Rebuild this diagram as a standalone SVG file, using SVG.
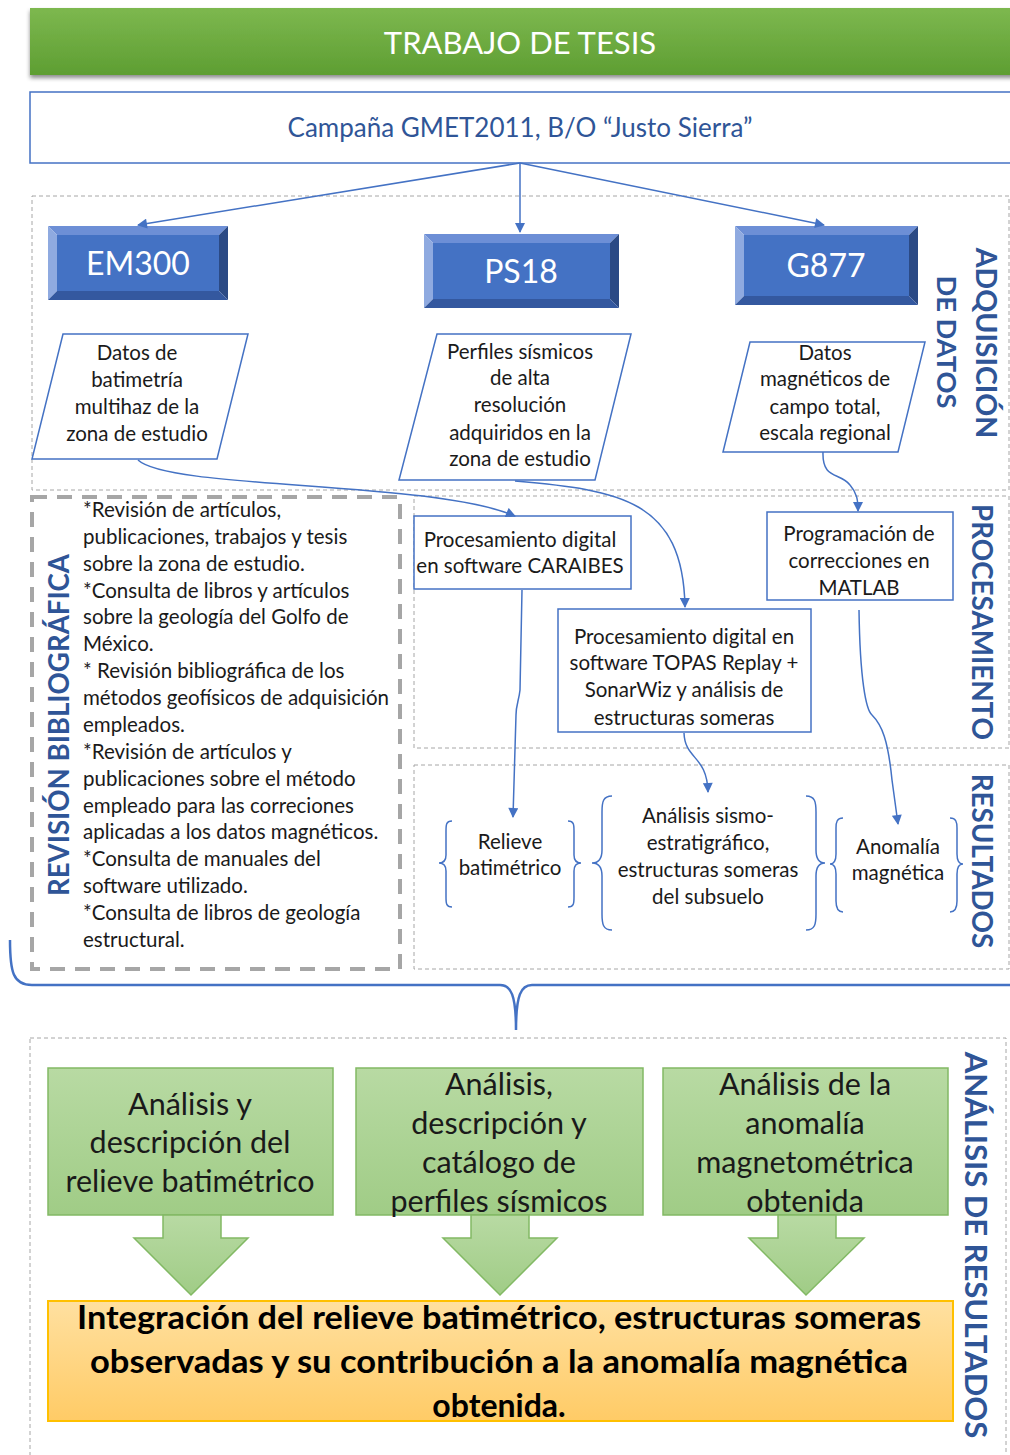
<svg xmlns="http://www.w3.org/2000/svg" width="1010" height="1455" viewBox="0 0 1010 1455">
<defs>
<style>
text{font-family:Lato,"Open Sans","Liberation Sans",sans-serif;fill:#1a1a1a}
.s19{font-size:20.5px}
.ctr{text-anchor:middle}
.vlab{font-size:28px;font-weight:bold;fill:#2F5597;text-anchor:middle;dominant-baseline:central}
.dash{fill:none;stroke:#A6A6A6;stroke-width:1;stroke-dasharray:4 3}
.box{fill:#fff;stroke:#4472C4;stroke-width:1.5}
.conn path{fill:none;stroke:#4472C4;stroke-width:1.5}
.brace{fill:none;stroke:#4472C4;stroke-width:1.5}
.bt{fill:#6D8FD6}.bl{fill:#8FAAE0}.br{fill:#2B4A85}.bb{fill:#34589F}.bf{fill:#4472C4}
.btxt{font-size:32px;fill:#fff;text-anchor:middle}
.gbox{fill:url(#gg);stroke:#82B964;stroke-width:1.5}
.gtxt{font-size:30.5px;text-anchor:middle}
.ytxt{font-size:32px;font-weight:bold;fill:#000;text-anchor:middle}
</style>
<linearGradient id="ban" x1="0" y1="0" x2="0" y2="1"><stop offset="0" stop-color="#7DB84F"/><stop offset="1" stop-color="#5E9E32"/></linearGradient>
<linearGradient id="gg" x1="0" y1="0" x2="0" y2="1"><stop offset="0" stop-color="#B8DAA3"/><stop offset="1" stop-color="#A0CC86"/></linearGradient>
<linearGradient id="yg" x1="0" y1="0" x2="0" y2="1"><stop offset="0" stop-color="#FFE0A0"/><stop offset="1" stop-color="#FFCB66"/></linearGradient>
<filter id="sh" x="-5%" y="-20%" width="110%" height="150%"><feDropShadow dx="0" dy="3" stdDeviation="2" flood-color="#000" flood-opacity="0.45"/></filter>
<marker id="ah" viewBox="0 0 10 10" refX="9" refY="5" markerWidth="11" markerHeight="10" markerUnits="userSpaceOnUse" orient="auto"><path d="M0,0 L10,5 L0,10 z" fill="#4472C4"/></marker>
</defs>

<!-- section frames -->
<g id="frames">
<rect class="dash" x="32" y="196" width="977" height="294"/>
<rect class="dash" x="414" y="496" width="595" height="252"/>
<rect class="dash" x="414" y="765" width="595" height="204"/>
<rect class="dash" x="30" y="1038" width="976" height="430"/>
<rect x="32" y="497" width="368" height="472" fill="none" stroke="#A6A6A6" stroke-width="4" stroke-dasharray="15 10"/>
</g>

<g id="banner">
<rect x="30" y="8" width="1000" height="67" fill="url(#ban)" filter="url(#sh)"/>
<text x="520" y="54" class="ctr" style="font-size:31px;fill:#fff">TRABAJO DE TESIS</text>
</g>

<g id="campana">
<rect class="box" x="30" y="92" width="1000" height="71"/>
<text x="520" y="137" class="ctr" style="font-size:26px;fill:#2F5597">Campaña GMET2011, B/O “Justo Sierra”</text>
</g>

<g id="em300">
<polygon class="bt" points="48,226 228,226 219,235 57,235"/>
<polygon class="bl" points="48,226 57,235 57,291 48,300"/>
<polygon class="br" points="228,226 228,300 219,291 219,235"/>
<polygon class="bb" points="48,300 57,291 219,291 228,300"/>
<rect class="bf" x="57" y="235" width="162" height="56"/>
<text class="btxt" x="138" y="275">EM300</text>
</g>

<g id="ps18">
<polygon class="bt" points="424,234 619,234 610,243 433,243"/>
<polygon class="bl" points="424,234 433,243 433,299 424,308"/>
<polygon class="br" points="619,234 619,308 610,299 610,243"/>
<polygon class="bb" points="424,308 433,299 610,299 619,308"/>
<rect class="bf" x="433" y="243" width="177" height="56"/>
<text class="btxt" x="521" y="283">PS18</text>
</g>

<g id="g877">
<polygon class="bt" points="735,226 918,226 909,235 744,235"/>
<polygon class="bl" points="735,226 744,235 744,296 735,305"/>
<polygon class="br" points="918,226 918,305 909,296 909,235"/>
<polygon class="bb" points="735,305 744,296 909,296 918,305"/>
<rect class="bf" x="744" y="235" width="165" height="61"/>
<text class="btxt" x="826" y="277">G877</text>
</g>

<g id="datos-batimetria">
<polygon class="box" points="63,334 248,334 217,459 32,459"/>
<text class="s19 ctr" x="137" y="360">Datos de</text>
<text class="s19 ctr" x="137" y="387">batimetría</text>
<text class="s19 ctr" x="137" y="414">multihaz de la</text>
<text class="s19 ctr" x="137" y="441">zona de estudio</text>
</g>

<g id="perfiles-sismicos">
<polygon class="box" points="437,334 631,334 595,480 399,480"/>
<text class="s19 ctr" x="520" y="359">Perfiles sísmicos</text>
<text class="s19 ctr" x="520" y="385">de alta</text>
<text class="s19 ctr" x="520" y="412">resolución</text>
<text class="s19 ctr" x="520" y="440">adquiridos en la</text>
<text class="s19 ctr" x="520" y="466">zona de estudio</text>
</g>

<g id="datos-magneticos">
<polygon class="box" points="750,342 925,342 898,452 723,452"/>
<text class="s19 ctr" x="825" y="360">Datos</text>
<text class="s19 ctr" x="825" y="386">magnéticos de</text>
<text class="s19 ctr" x="825" y="414">campo total,</text>
<text class="s19 ctr" x="825" y="440">escala regional</text>
</g>

<g id="revision">
<text class="s19" x="83" y="517">*Revisión de artículos,</text>
<text class="s19" x="83" y="544">publicaciones, trabajos y tesis</text>
<text class="s19" x="83" y="571">sobre la zona de estudio.</text>
<text class="s19" x="83" y="598">*Consulta de libros y artículos</text>
<text class="s19" x="83" y="624">sobre la geología del Golfo de</text>
<text class="s19" x="83" y="651">México.</text>
<text class="s19" x="83" y="678">* Revisión bibliográfica de los</text>
<text class="s19" x="83" y="705">métodos geofísicos de adquisición</text>
<text class="s19" x="83" y="732">empleados.</text>
<text class="s19" x="83" y="759">*Revisión de artículos y</text>
<text class="s19" x="83" y="786">publicaciones sobre el método</text>
<text class="s19" x="83" y="813">empleado para las correciones</text>
<text class="s19" x="83" y="839">aplicadas a los datos magnéticos.</text>
<text class="s19" x="83" y="866">*Consulta de manuales del</text>
<text class="s19" x="83" y="893">software utilizado.</text>
<text class="s19" x="83" y="920">*Consulta de libros de geología</text>
<text class="s19" x="83" y="947">estructural.</text>
</g>

<g id="caraibes">
<rect class="box" x="414" y="516" width="217" height="73"/>
<text class="s19 ctr" x="520" y="547">Procesamiento digital</text>
<text class="s19 ctr" x="520" y="573">en software CARAIBES</text>
</g>

<g id="topas">
<rect class="box" x="558" y="609" width="253" height="123"/>
<text class="s19 ctr" x="684" y="644">Procesamiento digital en</text>
<text class="s19 ctr" x="684" y="670">software TOPAS Replay +</text>
<text class="s19 ctr" x="684" y="697">SonarWiz y análisis de</text>
<text class="s19 ctr" x="684" y="725">estructuras someras</text>
</g>

<g id="matlab">
<rect class="box" x="767" y="512" width="186" height="88"/>
<text class="s19 ctr" x="859" y="541">Programación de</text>
<text class="s19 ctr" x="859" y="568">correcciones en</text>
<text class="s19 ctr" x="859" y="595">MATLAB</text>
</g>

<g id="relieve">
<path class="brace" d="M452,821 C446,821 446,825 446,831 L446,855 C446,860 444,863 439,863 C444,863 446,866 446,871 L446,897 C446,903 446,907 452,907"/>
<path class="brace" d="M568,821 C574,821 574,825 574,831 L574,855 C574,860 576,863 581,863 C576,863 574,866 574,871 L574,897 C574,903 574,907 568,907"/>
<text class="s19 ctr" x="510" y="849">Relieve</text>
<text class="s19 ctr" x="510" y="875">batimétrico</text>
</g>

<g id="sismo">
<path class="brace" d="M612,796 C603,796 602,802 602,812 L602,850 C602,858 599,863 592,863 C599,863 602,868 602,876 L602,914 C602,924 603,930 612,930"/>
<path class="brace" d="M806,796 C815,796 816,802 816,812 L816,850 C816,858 819,863 825,863 C819,863 816,868 816,876 L816,914 C816,924 815,930 806,930"/>
<text class="s19 ctr" x="708" y="823">Análisis sismo-</text>
<text class="s19 ctr" x="708" y="850">estratigráfico,</text>
<text class="s19 ctr" x="708" y="877">estructuras someras</text>
<text class="s19 ctr" x="708" y="904">del subsuelo</text>
</g>

<g id="anomalia">
<path class="brace" d="M843,818 C837,818 836,822 836,828 L836,854 C836,860 834,864 830,864 C834,864 836,868 836,874 L836,901 C836,907 837,912 843,912"/>
<path class="brace" d="M950,818 C956,818 957,822 957,828 L957,854 C957,860 959,864 963,864 C959,864 957,868 957,874 L957,901 C957,907 956,912 950,912"/>
<text class="s19 ctr" x="898" y="854">Anomalía</text>
<text class="s19 ctr" x="898" y="880">magnética</text>
</g>

<g id="section-labels">
<text class="vlab" transform="translate(987,343) rotate(90)" style="font-size:28.5px">ADQUISICIÓN</text>
<text class="vlab" transform="translate(947,342) rotate(90)" style="font-size:27.3px">DE DATOS</text>
<text class="vlab" transform="translate(982,622) rotate(90)" style="font-size:27.8px">PROCESAMIENTO</text>
<text class="vlab" transform="translate(982,861) rotate(90)" style="font-size:27.8px">RESULTADOS</text>
<text class="vlab" transform="translate(977,1245) rotate(90)" style="font-size:31px">ANÁLISIS DE RESULTADOS</text>
<text class="vlab" transform="translate(58,725) rotate(-90)" style="font-size:27.6px">REVISIÓN BIBLIOGRÁFICA</text>
</g>

<g id="analisis-relieve">
<rect class="gbox" x="48" y="1068" width="285" height="147"/>
<text class="gtxt" x="190" y="1115">Análisis y</text>
<text class="gtxt" x="190" y="1153">descripción del</text>
<text class="gtxt" x="190" y="1192">relieve batimétrico</text>
<polygon class="gbox" points="163,1215 221,1215 221,1238 248,1238 191,1295 134,1238 163,1238"/>
</g>

<g id="analisis-perfiles">
<rect class="gbox" x="356" y="1068" width="287" height="147"/>
<text class="gtxt" x="499" y="1095">Análisis,</text>
<text class="gtxt" x="499" y="1134">descripción y</text>
<text class="gtxt" x="499" y="1173">catálogo de</text>
<text class="gtxt" x="499" y="1212">perfiles sísmicos</text>
<polygon class="gbox" points="471,1215 529,1215 529,1238 557,1238 500,1295 443,1238 471,1238"/>
</g>

<g id="analisis-anomalia">
<rect class="gbox" x="663" y="1068" width="285" height="147"/>
<text class="gtxt" x="805" y="1095">Análisis de la</text>
<text class="gtxt" x="805" y="1134">anomalía</text>
<text class="gtxt" x="805" y="1173">magnetométrica</text>
<text class="gtxt" x="805" y="1212">obtenida</text>
<polygon class="gbox" points="778,1215 836,1215 836,1238 864,1238 806,1295 749,1238 778,1238"/>
</g>

<g id="integracion">
<rect x="48" y="1301" width="905" height="120" fill="url(#yg)" stroke="#FFC000" stroke-width="2"/>
<text x="499" y="1329" class="ytxt" textLength="844" lengthAdjust="spacingAndGlyphs">Integración del relieve batimétrico, estructuras someras</text>
<text x="499" y="1373" class="ytxt" textLength="818" lengthAdjust="spacingAndGlyphs">observadas y su contribución a la anomalía magnética</text>
<text x="499" y="1417" class="ytxt">obtenida.</text>
</g>

<g id="connectors" class="conn">
<path d="M520,163 L138,225" marker-end="url(#ah)"/>
<path d="M520,163 L520,232" marker-end="url(#ah)"/>
<path d="M520,163 L824,225" marker-end="url(#ah)"/>
<path d="M138,460 C170,490 430,480 515,516" marker-end="url(#ah)"/>
<path d="M515,481 C620,490 683,500 685,607" marker-end="url(#ah)"/>
<path d="M823,452 C822,480 840,472 850,485 C857,493 858,500 858,511" marker-end="url(#ah)"/>
<path d="M522,590 L520,690 C519,700 516,705 516,715 L513,817" marker-end="url(#ah)"/>
<path d="M684,733 C685,760 707,755 708,792" marker-end="url(#ah)"/>
<path d="M859,610 C860,680 866,710 872,715 C882,725 888,740 892,780 L898,824" marker-end="url(#ah)"/>
<path d="M10,940 C10,972 13,985 32,985 L500,985 C511,985 516,995 516,1030 C516,995 521,985 532,985 L1012,985" style="stroke-width:2.5"/>
</g>
</svg>
